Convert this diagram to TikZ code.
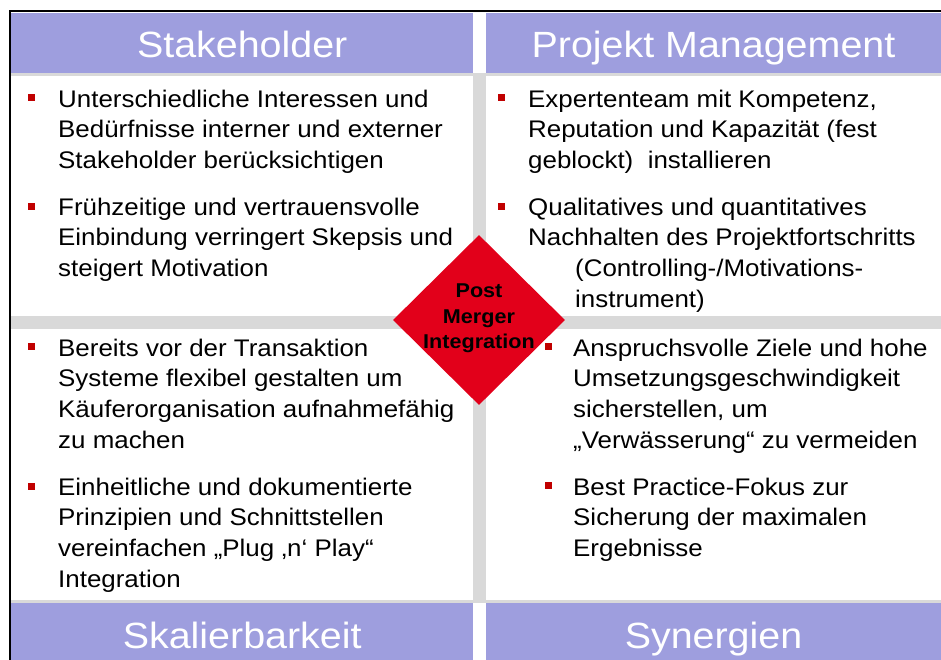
\documentclass[tikz,border=0pt]{standalone}
\usepackage{fontspec}
\setmainfont{Liberation Sans}[FakeStretch=1.08]
\usetikzlibrary{shapes.geometric}

\definecolor{hdrblue}{RGB}{158,158,222}
\definecolor{sepgrey}{RGB}{217,217,217}
\definecolor{pmired}{RGB}{226,0,26}
\definecolor{bulletred}{RGB}{192,0,0}

\begin{document}
\begin{tikzpicture}[x=1pt,y=-1pt,
  hdr/.style={fill=hdrblue,text=white,font=\fontsize{36.5}{44}\selectfont,
    minimum height=60pt,inner sep=0,text height=30pt,text depth=0pt},
  txt/.style={anchor=base west,inner sep=0,font=\fontsize{24}{30.7}\selectfont},
  blt/.style={fill=bulletred,minimum size=7pt,inner sep=0},
  pmi/.style={diamond,fill=pmired,minimum width=172pt,minimum height=170pt,inner sep=0},
  pmitxt/.style={font=\bfseries\fontsize{20}{25.5}\selectfont,align=center,inner sep=0}
]
\useasboundingbox (0,0) rectangle (941,659);
\fill[white] (0,0) rectangle (941,659);

% ---- grey separators ----
\fill[sepgrey] (473.3,72.7) rectangle (486,603);
\fill[sepgrey] (11,72.7) rectangle (941,76);
\fill[sepgrey] (11,600) rectangle (941,603);
\fill[sepgrey] (11,316) rectangle (941,329);

% ---- headers ----
\node[hdr,minimum width=462.3pt] (stake) at (242.2,42.7) {Stakeholder};
\node[hdr,minimum width=455pt]   (pm)    at (713.5,42.7) {Projekt Management};
\node[hdr,minimum width=462.3pt] (skal)  at (242.2,633)  {Skalierbarkeit};
\node[hdr,minimum width=455pt]   (syn)   at (713.5,633)  {Synergien};

% frame
\draw[line width=2pt] (10,680) |- (950,11);

% ---- top left ----
\node[blt] (b1) at (31,97.5) {};
\foreach \row [count=\i] in {Unterschiedliche Interessen und,
    Bedürfnisse interner und externer, Stakeholder berücksichtigen}
  \node[txt] (tl1-\i) at (58,{107+30.7*(\i-1)}) {\row};
\node[blt] (b2) at (31,206.5) {};
\foreach \row [count=\i] in {Frühzeitige und vertrauensvolle,
    Einbindung verringert Skepsis und, steigert Motivation}
  \node[txt] (tl2-\i) at (58,{215+30.7*(\i-1)}) {\row};

% ---- top right ----
\node[blt] (b3) at (501.5,97.5) {};
\foreach \row [count=\i] in {{Expertenteam mit Kompetenz,},
    Reputation und Kapazität (fest, {geblockt)\ \ installieren}}
  \node[txt] (tr1-\i) at (528,{107+30.7*(\i-1)}) {\row};
\node[blt] (b4) at (501.5,206.5) {};
\foreach \row [count=\i] in {Qualitatives und quantitatives,
    Nachhalten des Projektfortschritts}
  \node[txt] (tr2-\i) at (528,{215+30.7*(\i-1)}) {\row};
\node[txt] (tr2-3) at (575,276.4) {(Controlling-/Motivations-};
\node[txt] (tr2-4) at (575,307.1) {instrument)};

% ---- bottom left ----
\node[blt] (b5) at (31.5,346.5) {};
\foreach \row [count=\i] in {Bereits vor der Transaktion,
    Systeme flexibel gestalten um, Käuferorganisation aufnahmefähig, zu machen}
  \node[txt] (bl1-\i) at (58,{356+30.7*(\i-1)}) {\row};
\node[blt] (b6) at (31.5,486) {};
\foreach \row [count=\i] in {Einheitliche und dokumentierte,
    Prinzipien und Schnittstellen, vereinfachen „Plug ‚n‘ Play“, Integration}
  \node[txt] (bl2-\i) at (58,{495+30.7*(\i-1)}) {\row};

% ---- bottom right ----
\node[blt] (b7) at (548,346.5) {};
\foreach \row [count=\i] in {Anspruchsvolle Ziele und hohe,
    Umsetzungsgeschwindigkeit, {sicherstellen, um}, „Verwässerung“ zu vermeiden}
  \node[txt] (br1-\i) at (573,{356+30.7*(\i-1)}) {\row};
\node[blt] (b8) at (548,485.5) {};
\foreach \row [count=\i] in {Best Practice-Fokus zur,
    Sicherung der maximalen, Ergebnisse}
  \node[txt] (br2-\i) at (573,{495+30.7*(\i-1)}) {\row};

% ---- centre diamond ----
\node[pmi] (pmi) at (479,320) {};
\node[pmitxt] (pmitext) at ([yshift=1.5pt]pmi.center) {Post\\Merger\\Integration};

\end{tikzpicture}
\end{document}
